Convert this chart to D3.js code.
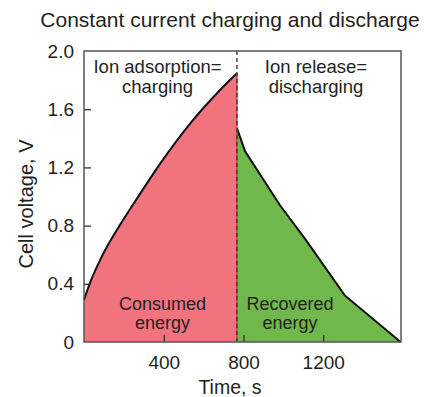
<!DOCTYPE html>
<html>
<head>
<meta charset="utf-8">
<script src="https://cdn.jsdelivr.net/npm/d3@7"></script>
<style>
  html, body { margin: 0; padding: 0; background: #fff; }
  svg { display: block; font-family: "Liberation Sans", Arial, sans-serif; }
</style>
</head>
<body>
<svg id="chart" width="425" height="397"></svg>
<script>
// Charging branch: time (s) and cell voltage (V)
const chargeTime = [0, 40, 83, 130, 183, 258, 383, 533, 667, 767];
const chargeVolt = [0.29, 0.44, 0.57, 0.69, 0.81, 0.97, 1.228, 1.503, 1.71, 1.847];
// Discharging branch
const dischargeTime = [767, 808, 983, 1108, 1308, 1588];
const dischargeVolt = [1.47, 1.31, 0.94, 0.71, 0.32, 0.0];

const xTicks = [400, 800, 1200];
const yTicks = [0, 0.4, 0.8, 1.2, 1.6, 2.0];
const switchTime = 767;

const svg = d3.select("#chart");
const margin = { left: 84, right: 24, top: 51, bottom: 55 };
const W = 425, H = 397;

const x = d3.scaleLinear().domain([0, 1590]).range([margin.left, W - margin.right]);
const y = d3.scaleLinear().domain([0, 2.0]).range([H - margin.bottom, margin.top]);

const textColor = "#231f20";

// Title
svg.append("text")
  .attr("x", 230).attr("y", 27)
  .attr("text-anchor", "middle")
  .attr("font-size", 21)
  .attr("fill", textColor)
  .text("Constant current charging and discharge");

const charge = chargeTime.map((t, i) => ({ t, v: chargeVolt[i] }));
const discharge = dischargeTime.map((t, i) => ({ t, v: dischargeVolt[i] }));

const areaC = d3.area().x(d => x(d.t)).y0(y(0)).y1(d => y(d.v)).curve(d3.curveMonotoneX);
const lineC = d3.line().x(d => x(d.t)).y(d => y(d.v)).curve(d3.curveMonotoneX);
const areaD = d3.area().x(d => x(d.t)).y0(y(0)).y1(d => y(d.v));
const lineD = d3.line().x(d => x(d.t)).y(d => y(d.v));

svg.append("path").datum(charge).attr("d", areaC).attr("fill", "#f1737e");
svg.append("path").datum(discharge).attr("d", areaD).attr("fill", "#70b84b");

svg.append("path").datum(charge).attr("d", lineC)
  .attr("fill", "none").attr("stroke", "#111").attr("stroke-width", 2);
svg.append("path").datum(discharge).attr("d", lineD)
  .attr("fill", "none").attr("stroke", "#111").attr("stroke-width", 2);

// Switch between charging and discharging
svg.append("line")
  .attr("x1", x(switchTime)).attr("x2", x(switchTime))
  .attr("y1", y(0)).attr("y2", y(chargeVolt[chargeVolt.length - 1]))
  .attr("stroke", "#e8323c").attr("stroke-width", 1.5);
svg.append("line")
  .attr("x1", x(switchTime)).attr("x2", x(switchTime))
  .attr("y1", y(0)).attr("y2", y(2.0))
  .attr("stroke", "#333").attr("stroke-width", 1.3)
  .attr("stroke-dasharray", "4,3");

// Axes with inward ticks
const xAxis = d3.axisBottom(x).tickValues(xTicks).tickSizeInner(-7).tickSizeOuter(0).tickPadding(14)
  .tickFormat(d3.format("d"));
const yAxis = d3.axisLeft(y).tickValues(yTicks).tickSizeInner(-7).tickSizeOuter(0).tickPadding(10)
  .tickFormat(d => d === 0 ? "0" : d3.format(".1f")(d));

const gx = svg.append("g").attr("transform", `translate(0,${y(0)})`).call(xAxis);
const gy = svg.append("g").attr("transform", `translate(${x(0)},0)`).call(yAxis);
[gx, gy].forEach(g => {
  g.select(".domain").remove();
  g.selectAll(".tick line").attr("stroke", "#333").attr("stroke-width", 1.3);
  g.selectAll(".tick text").attr("font-size", 19).attr("fill", textColor)
    .attr("font-family", "Liberation Sans, Arial, sans-serif");
});
gy.selectAll(".tick").filter(d => d === 0 || d === 2.0).select("line").remove();

// Frame
svg.append("rect")
  .attr("x", x(0)).attr("y", y(2.0))
  .attr("width", x(1590) - x(0)).attr("height", y(0) - y(2.0))
  .attr("fill", "none").attr("stroke", "#555").attr("stroke-width", 1.5);

// Axis titles
svg.append("text")
  .attr("x", 230).attr("y", 394)
  .attr("text-anchor", "middle").attr("font-size", 19.5).attr("fill", textColor)
  .text("Time, s");
svg.append("text")
  .attr("transform", "translate(33,204) rotate(-90)")
  .attr("text-anchor", "middle").attr("font-size", 20).attr("fill", textColor)
  .text("Cell voltage, V");

// Region labels
function label(cx, lines, y0, dy, size) {
  const t = svg.append("text").attr("text-anchor", "middle")
    .attr("font-size", size).attr("fill", textColor);
  lines.forEach((s, i) => t.append("tspan").attr("x", cx).attr("y", y0 + i * dy).text(s));
}
label(157.5, ["Ion adsorption=", "charging"], 73, 19.5, 18.5);
label(316, ["Ion release=", "discharging"], 73, 19.5, 18.5);
label(162.5, ["Consumed", "energy"], 310, 19, 18);
label(290, ["Recovered", "energy"], 310, 19, 18);
</script>
</body>
</html>
